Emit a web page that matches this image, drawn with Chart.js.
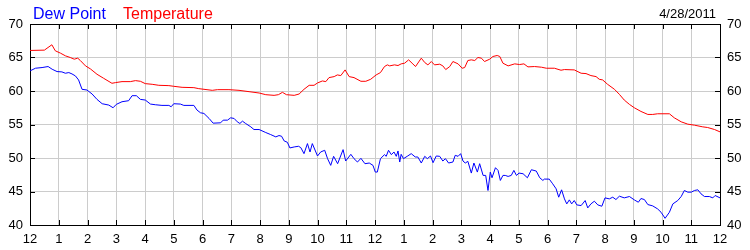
<!DOCTYPE html>
<html>
<head>
<meta charset="utf-8">
<script src="https://cdn.jsdelivr.net/npm/chart.js@4.4.1/dist/chart.umd.min.js"></script>
<style>
  html, body { margin: 0; padding: 0; background: #ffffff; }
  #wrap { width: 750px; height: 250px; position: relative; }
</style>
</head>
<body>
<div id="wrap"><canvas id="c" width="750" height="250"></canvas></div>
<script>
// ---- Data (hours since midnight, °F) ----
const seriesNames = ['Dew Point', 'Temperature'];
const dateLabel = '4/28/2011';
const hourLabels = ['12','1','2','3','4','5','6','7','8','9','10','11',
                    '12','1','2','3','4','5','6','7','8','9','10','11','12'];

const tempTimes = [0,0.5,0.76,0.88,1.06,1.23,1.4,1.54,1.66,1.75,1.93,2.1,2.33,2.56,2.85,2.97,3.2,3.49,3.67,3.84,4.01,4.25,4.48,4.83,5.0,5.29,5.7,5.87,
  6.34,6.52,6.92,7.27,7.62,7.97,8.2,8.49,8.64,8.78,8.92,9.19,9.36,9.53,9.71,9.88,10.0,10.17,10.29,10.4,10.58,10.69,10.81,10.96,11.1,11.27,11.51,11.68,11.85,
  12.04,12.19,12.33,12.43,12.51,12.68,12.8,12.91,13.03,13.17,13.29,13.41,13.61,13.73,13.84,13.96,14.07,14.25,14.36,14.46,14.6,14.71,14.89,15.03,15.12,15.23,15.35,15.47,15.58,15.7,15.81,15.99,16.1,16.25,16.34,16.45,16.63,16.86,17.03,17.18,17.32,17.55,17.79,
  17.96,18.24,18.47,18.59,18.93,19.17,19.34,19.51,19.69,19.8,19.92,20.09,20.33,20.5,20.67,20.85,21.02,21.25,21.49,21.66,21.83,22.24,22.41,22.65,22.88,23.11,23.4,23.57,23.81,24];
const tempValues = [66.05,66.1,66.9,66.0,65.65,65.25,65.0,64.75,64.9,64.55,63.75,63.3,62.5,61.9,61.15,61.25,61.4,61.4,61.55,61.45,61.1,61.0,60.85,60.8,60.7,60.55,60.5,60.35,
  60.1,60.2,60.2,60.1,59.9,59.7,59.45,59.35,59.45,59.8,59.45,59.35,59.55,60.25,60.85,60.85,61.2,61.5,61.4,62.0,62.15,62.4,62.3,63.15,62.15,62.0,61.45,61.45,61.75,
  62.4,62.75,63.65,63.9,63.75,63.9,63.8,64.05,64.15,64.65,64.15,63.65,64.9,64.25,63.9,64.4,63.9,64.0,63.75,63.2,63.65,64.4,64.05,63.4,63.5,64.55,64.65,64.55,65.0,64.9,64.4,64.75,65.15,65.3,65.15,64.15,63.75,64.05,63.95,64.05,63.6,63.65,63.55,
  63.4,63.4,63.1,63.2,63.15,62.65,62.6,62.3,62.15,61.75,61.65,61.0,60.25,59.5,58.65,58.0,57.5,56.95,56.5,56.5,56.6,56.6,56.0,55.4,55.05,54.9,54.65,54.55,54.25,53.9];

const dewTimes = [0,0.19,0.42,0.63,0.77,0.94,1.11,1.23,1.35,1.46,1.58,1.69,1.81,1.98,2.16,2.33,2.51,2.74,2.89,3.0,3.2,3.43,3.55,3.7,3.84,4.01,4.19,4.36,4.59,4.83,4.91,5.0,5.23,5.35,5.7,5.81,5.93,
  6.05,6.23,6.37,6.63,6.72,6.87,6.98,7.1,7.21,7.3,7.39,7.5,7.68,7.79,7.97,8.2,8.37,8.55,8.66,8.75,8.84,8.95,9.04,9.19,9.34,9.42,9.53,9.65,9.74,9.82,10.0,10.11,10.25,10.35,10.46,10.56,10.7,10.89,10.98,11.16,11.27,11.39,11.51,11.65,11.8,
  11.93,12.01,12.08,12.19,12.33,12.39,12.47,12.57,12.66,12.74,12.8,12.86,12.91,12.99,13.12,13.26,13.4,13.49,13.61,13.73,13.82,13.93,14.02,14.13,14.25,14.36,14.45,14.56,14.71,14.79,14.89,14.98,15.06,15.14,15.23,15.35,15.44,15.56,15.64,15.76,15.85,15.93,16.01,16.07,16.19,16.28,16.36,16.45,16.53,16.63,16.74,16.83,16.92,17.01,17.15,17.3,17.44,17.61,17.73,17.84,
  17.89,18.06,18.18,18.3,18.39,18.49,18.59,18.67,18.76,18.84,18.93,19.02,19.17,19.31,19.4,19.51,19.63,19.75,19.89,20.0,20.15,20.27,20.38,20.5,20.67,20.85,21.02,21.16,21.25,21.37,21.49,21.66,21.83,21.95,22.09,22.24,22.36,22.53,22.65,22.76,22.88,23.0,23.11,23.23,23.34,23.46,23.63,23.75,23.83,24];
const dewValues = [63.0,63.4,63.5,63.65,63.25,62.9,62.85,62.65,62.75,62.55,62.25,61.65,60.25,60.15,59.55,58.75,58.1,57.9,57.5,58.0,58.4,58.55,59.3,59.3,58.75,58.65,58.05,57.95,57.85,57.85,57.65,58.1,58.05,57.85,57.85,57.15,56.75,
  56.65,55.9,55.2,55.25,55.65,55.65,56.0,55.9,55.4,55.15,55.5,55.15,54.65,54.25,54.25,53.8,53.5,53.15,53.35,53.25,52.55,52.35,51.5,51.65,51.75,51.55,50.65,52.15,50.9,52.15,50.3,50.9,51.15,49.9,48.9,50.25,49.15,51.25,49.55,50.55,49.9,49.4,49.95,49.15,49.25,
  48.9,47.9,47.9,49.9,50.5,50.25,51.15,50.5,50.9,50.25,51.05,49.4,50.55,49.9,50.25,50.65,50.15,50.15,49.25,50.25,49.9,50.3,49.3,50.3,50.25,49.55,49.9,49.25,49.4,50.4,50.25,50.65,49.55,49.25,49.5,47.75,49.25,47.9,49.15,47.4,47.4,45.15,47.9,47.05,48.55,48.15,46.65,47.4,47.4,47.25,47.4,48.15,47.4,47.75,47.65,47.05,48.25,48.05,47.05,46.65,
  46.85,46.85,46.15,45.4,44.15,45.25,43.9,43.15,43.75,43.15,43.65,43.0,42.9,43.65,42.55,43.15,43.55,43.0,42.8,44.05,43.9,44.15,43.8,44.3,44.05,44.25,43.75,43.4,43.95,43.8,43.05,42.85,42.4,41.9,41.0,41.9,43.15,43.65,44.25,45.15,44.9,44.9,45.15,45.25,44.65,44.25,44.25,44.05,44.4,44.05];

// ---- Build chart ----
const toPoints = (ts, vs) => ts.map((t, i) => ({ x: t, y: vs[i] }));
const FONT = '"Liberation Sans", Arial, sans-serif';

const inwardTicks = {
  id: 'inwardTicks',
  afterDraw(chart) {
    const { ctx, chartArea: a, scales } = chart;
    ctx.save();
    ctx.strokeStyle = '#000';
    ctx.lineWidth = 1;
    ctx.beginPath();
    scales.x.ticks.forEach(t => {
      const px = Math.round(scales.x.getPixelForValue(t.value)) + 0.5;
      ctx.moveTo(px, a.bottom); ctx.lineTo(px, a.bottom - 5);
      ctx.moveTo(px, a.top); ctx.lineTo(px, a.top + 5);
    });
    scales.y.ticks.forEach(t => {
      const py = Math.round(scales.y.getPixelForValue(t.value)) + 0.5;
      ctx.moveTo(a.left, py); ctx.lineTo(a.left + 5, py);
      ctx.moveTo(a.right, py); ctx.lineTo(a.right - 5, py);
    });
    ctx.stroke();
    // header texts
    ctx.textBaseline = 'alphabetic';
    ctx.font = '16px ' + FONT;
    ctx.textAlign = 'left';
    ctx.fillStyle = '#0000ff';
    ctx.fillText(seriesNames[0], 33, 18.5);
    ctx.fillStyle = '#ff0000';
    ctx.fillText(seriesNames[1], 123, 18.5);
    ctx.font = '13px ' + FONT;
    ctx.fillStyle = '#000';
    ctx.textAlign = 'right';
    ctx.fillText(dateLabel, 716, 17.5);
    ctx.restore();
  }
};

const bg = {
  id: 'bg',
  beforeDraw(chart) {
    const ctx = chart.ctx;
    ctx.save(); ctx.fillStyle = '#fff'; ctx.fillRect(0, 0, chart.width, chart.height); ctx.restore();
  }
};

new Chart(document.getElementById('c'), {
  type: 'line',
  data: {
    datasets: [
      { label: seriesNames[1], data: toPoints(tempTimes, tempValues), borderColor: '#ff0000', borderWidth: 1, pointRadius: 0, tension: 0, fill: false },
      { label: seriesNames[0], data: toPoints(dewTimes, dewValues), borderColor: '#0000ff', borderWidth: 1, pointRadius: 0, tension: 0, fill: false }
    ]
  },
  options: {
    responsive: false,
    animation: false,
    layout: { padding: 0 },
    plugins: { legend: { display: false }, tooltip: { enabled: false } },
    scales: {
      x: {
        type: 'linear', position: 'bottom', min: 0, max: 24,
        grid: { color: '#cccccc', drawTicks: false },
        border: { color: '#000', width: 1 },
        ticks: { stepSize: 1, autoSkip: false, maxRotation: 0, padding: 7, color: '#000',
                 font: { family: FONT, size: 13 }, callback: v => hourLabels[v] },
        afterFit: s => { s.height = 25; }
      },
      x2: {
        type: 'linear', position: 'top', min: 0, max: 24,
        grid: { display: false, drawTicks: false },
        border: { color: '#000', width: 1 },
        ticks: { display: false },
        afterFit: s => { s.height = 24; }
      },
      y: {
        type: 'linear', position: 'left', min: 40, max: 70,
        grid: { color: '#cccccc', drawTicks: false },
        border: { color: '#000', width: 1 },
        ticks: { stepSize: 5, padding: 7, color: '#000', font: { family: FONT, size: 13 } },
        afterFit: s => { s.width = 30; }
      },
      y2: {
        type: 'linear', position: 'right', min: 40, max: 70,
        grid: { display: false, drawTicks: false },
        border: { color: '#000', width: 1 },
        ticks: { stepSize: 5, padding: 7, color: '#000', font: { family: FONT, size: 13 } },
        afterFit: s => { s.width = 30; }
      }
    }
  },
  plugins: [bg, inwardTicks]
});
</script>
</body>
</html>
